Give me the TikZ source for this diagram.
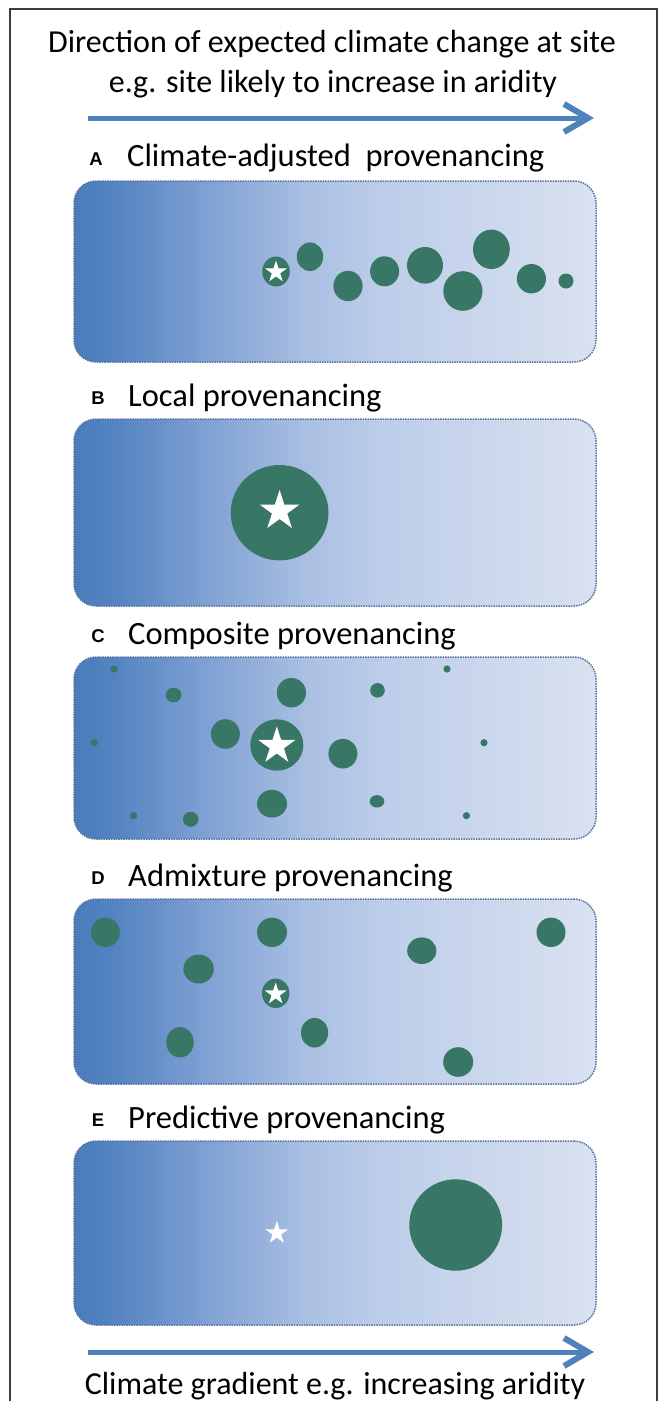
\documentclass[tikz,border=0pt]{standalone}
\usepackage{fontspec}
\setmainfont{Carlito}
\newfontfamily\lettfont{Liberation Sans}
\usetikzlibrary{shapes.geometric,calc}
\definecolor{tealc}{RGB}{56,118,102}
\definecolor{arrowblue}{RGB}{79,129,189}
\definecolor{pborder}{RGB}{88,116,160}
\definecolor{framec}{RGB}{60,60,60}
\definecolor{g0}{RGB}{74,124,187}
\definecolor{g1}{RGB}{84,132,193}
\definecolor{g2}{RGB}{127,160,211}
\definecolor{g3}{RGB}{170,192,227}
\definecolor{g4}{RGB}{190,206,234}
\definecolor{g5}{RGB}{203,215,236}
\definecolor{g6}{RGB}{218,226,241}
\pgfdeclarehorizontalshading{panelshade}{100bp}{color(0bp)=(g0); color(25bp)=(g0); color(29bp)=(g1); color(37.5bp)=(g2); color(47.5bp)=(g3); color(55bp)=(g4); color(65bp)=(g5); color(75bp)=(g6); color(100bp)=(g6)}
\tikzset{
  panel/.style={rectangle, rounded corners=22pt, shading=panelshade, draw=pborder, densely dotted, line width=1.5pt, inner sep=0pt, minimum width=522pt, minimum height=#1},
  blob/.style 2 args={ellipse, fill=tealc, inner sep=0pt, minimum width=#1, minimum height=#2},
  starw/.style={star, star points=5, star point ratio=2.618, fill=white, inner sep=0pt, minimum size=#1},
  headtxt/.style={anchor=base, font=\fontsize{32}{36}\selectfont, text=black, inner sep=0pt},
  ttl/.style={anchor=base west, font=\fontsize{32.5}{38}\selectfont, text=black, inner sep=0pt},
  lett/.style={anchor=base, font=\lettfont\bfseries\fontsize{18.5}{20}\selectfont, text=black, inner sep=0pt},
  shaft/.style={draw=arrowblue, line width=5pt},
  chev/.style={draw=arrowblue, line width=6pt, line join=miter, line cap=butt},
  framel/.style={draw=framec, line width=1.3pt}
}
\begin{document}
\begin{tikzpicture}[x=1pt, y=-1pt]
\useasboundingbox (0,0) rectangle (665,1401);
\fill[white] (0,0) rectangle (665,1401);
% frame
\coordinate (fbl) at (10,1401);
\coordinate (ftl) at (10,9);
\coordinate (ftr) at (657,9);
\coordinate (fbr) at (657,1401);
\draw[framel] (fbl) -- (ftl) -- (ftr) -- (fbr);

% heading
\node[headtxt] (h1) at (332,52) {Direction of expected climate change at site};
\node[headtxt] (h2) at (333,92) {e.g. site likely to increase in aridity};

% top arrow
\coordinate (ta0) at (88,118);
\coordinate (ta1) at (586,118);
\coordinate (tatip) at (588,118);
\draw[shaft] (ta0) -- (ta1);
\draw[chev] ($(tatip)+(-24,-14)$) -- (tatip) -- ($(tatip)+(-24,14)$);

% ---------- Panel A
\node[lett] (lA) at (96,165) {A};
\node[ttl] (tA) at (127,166) {Climate-adjusted\ \ provenancing};
\node[panel=181pt] (pA) at (335,271.5) {};
\node[blob={27.5pt}{30pt}] (a0) at (276,271.5) {};
\node[starw=23pt] (sA) at (276,272) {};
\node[blob={26.4pt}{28.6pt}] (a1) at (310,256.7) {};
\node[blob={29.2pt}{30.4pt}] (a2) at (348,286) {};
\node[blob={29pt}{30pt}] (a3) at (384.6,271.3) {};
\node[blob={36pt}{36.6pt}] (a4) at (425,265.3) {};
\node[blob={39.2pt}{39.6pt}] (a5) at (462.9,291) {};
\node[blob={36.8pt}{39.4pt}] (a6) at (491.4,249.3) {};
\node[blob={29.2pt}{29.4pt}] (a7) at (531.4,278.7) {};
\node[blob={15pt}{15pt}] (a8) at (566,281) {};

% ---------- Panel B
\node[lett] (lB) at (98,404) {B};
\node[ttl] (tB) at (128,406) {Local provenancing};
\node[panel=187pt] (pB) at (335,512.5) {};
\node[blob={97.8pt}{95.4pt}] (b0) at (279.6,512.7) {};
\node[starw=42pt] (sB) at (279.6,511) {};

% ---------- Panel C
\node[lett] (lC) at (98,642) {C};
\node[ttl] (tC) at (128,644) {Composite provenancing};
\node[panel=182pt] (pC) at (335,748) {};
\node[blob={7.2pt}{7.2pt}] (c1) at (114,669) {};
\node[blob={15.8pt}{14.6pt}] (c2) at (173.6,695) {};
\node[blob={29.2pt}{29.4pt}] (c3) at (291.4,692.7) {};
\node[blob={14.6pt}{14.6pt}] (c4) at (377.5,690.3) {};
\node[blob={7.2pt}{7.2pt}] (c5) at (447,669) {};
\node[blob={29pt}{29.6pt}] (c6) at (225.4,734) {};
\node[blob={53pt}{51.4pt}] (c0) at (276.8,745) {};
\node[starw=39pt] (sC) at (276.8,746) {};
\node[blob={7.2pt}{7.2pt}] (c7) at (94.3,742.7) {};
\node[blob={29pt}{29.6pt}] (c8) at (342.9,753.7) {};
\node[blob={7.2pt}{7.2pt}] (c9) at (484,742.7) {};
\node[blob={30pt}{27.6pt}] (c10) at (272,803.7) {};
\node[blob={14.6pt}{12.4pt}] (c11) at (377,801.3) {};
\node[blob={7.2pt}{7.2pt}] (c12) at (133.6,815.7) {};
\node[blob={15.4pt}{15pt}] (c13) at (190.7,819.3) {};
\node[blob={7.2pt}{7.2pt}] (c14) at (466.4,815.7) {};

% ---------- Panel D
\node[lett] (lD) at (98,884) {D};
\node[ttl] (tD) at (128,886) {Admixture provenancing};
\node[panel=185pt] (pD) at (335,991.5) {};
\node[blob={29pt}{29.4pt}] (d1) at (105.4,932.3) {};
\node[blob={30pt}{29.4pt}] (d2) at (272,932.3) {};
\node[blob={29pt}{29.4pt}] (d3) at (551,932.3) {};
\node[blob={29.2pt}{26.6pt}] (d4) at (421.8,950.7) {};
\node[blob={30.4pt}{29pt}] (d5) at (198.6,969) {};
\node[blob={27.5pt}{29.4pt}] (d0) at (275.7,993.3) {};
\node[starw=23pt] (sD) at (275.7,994) {};
\node[blob={27.2pt}{29.6pt}] (d6) at (314.6,1032.7) {};
\node[blob={27.5pt}{30.4pt}] (d7) at (180,1042.3) {};
\node[blob={30pt}{29.6pt}] (d8) at (458.2,1062) {};

% ---------- Panel E
\node[lett] (lE) at (98,1126) {E};
\node[ttl] (tE) at (128,1128) {Predictive provenancing};
\node[panel=184pt] (pE) at (335,1233) {};
\node[blob={92.8pt}{91.4pt}] (e0) at (455.7,1225) {};
\node[starw=24pt] (sE) at (276.8,1233) {};

% bottom arrow
\coordinate (ba0) at (88,1352);
\coordinate (ba1) at (586,1352);
\coordinate (batip) at (588,1352);
\draw[shaft] (ba0) -- (ba1);
\draw[chev] ($(batip)+(-24,-14)$) -- (batip) -- ($(batip)+(-24,14)$);
\node[headtxt] (bt) at (335,1394) {Climate gradient e.g. increasing aridity};
\end{tikzpicture}
\end{document}
